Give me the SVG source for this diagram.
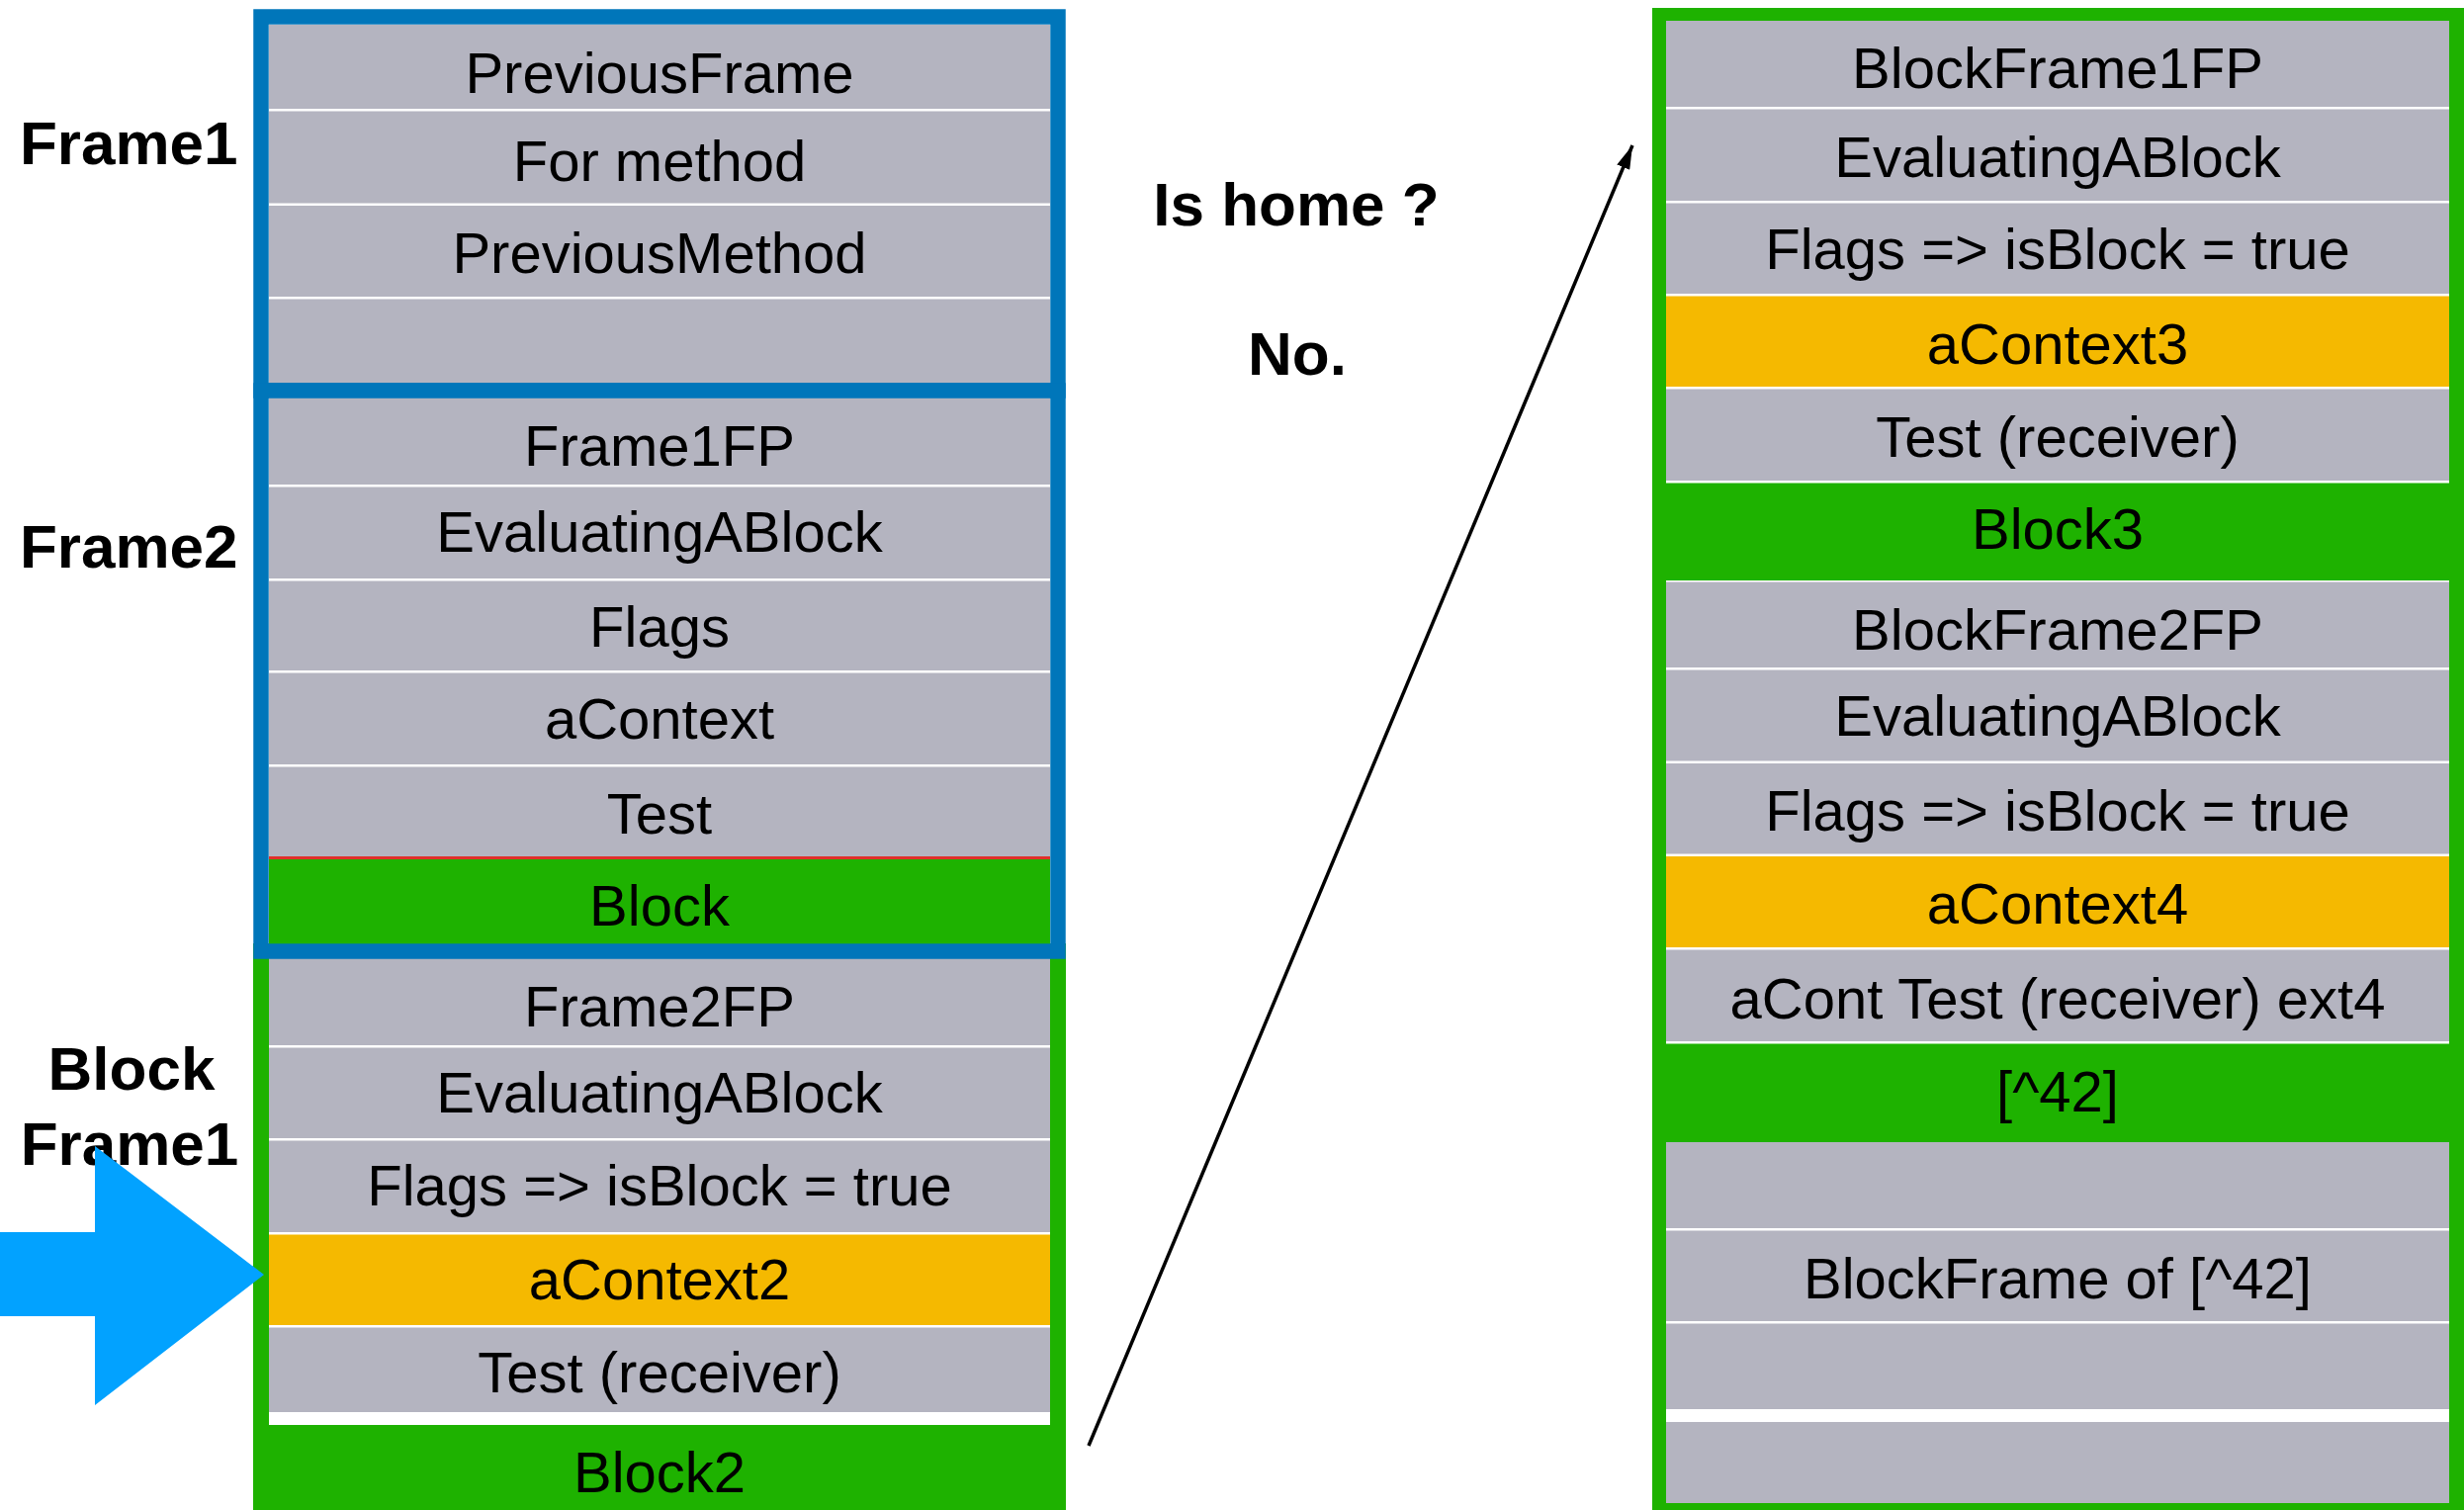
<svg xmlns="http://www.w3.org/2000/svg" width="2492" height="1527" viewBox="0 0 2492 1527">
<style>
.g{fill:#B4B4C0}
.o{fill:#F5B900}
.gr{fill:#1EB200}
.w{fill:#FFFFFF}
.t{font-family:"Liberation Sans",Arial,Helvetica,sans-serif;font-size:58px;fill:#000;text-anchor:middle}
.lb{font-family:"Liberation Sans",Arial,Helvetica,sans-serif;font-size:62px;font-weight:bold;fill:#000}
.blue{fill:none;stroke:#0076BA;stroke-width:15.5}
.green{fill:none;stroke:#1EB200;stroke-width:16}
</style>
<defs>
<marker id="ah2" viewBox="0 0 24 14" refX="24" refY="7" markerWidth="24" markerHeight="14" markerUnits="userSpaceOnUse" orient="auto">
<path d="M0,0 L24,7 L0,14 z" fill="#000"/>
</marker>
</defs>
<rect x="0" y="0" width="2492" height="1527" fill="#FFFFFF"/>

<!-- Labels -->
<g id="label-frame1"><text class="lb" x="20" y="166">Frame1</text></g>
<g id="label-frame2"><text class="lb" x="20" y="574">Frame2</text></g>
<g id="label-blockframe1"><text class="lb" x="133" y="1102" text-anchor="middle">Block</text><text class="lb" x="131" y="1178" text-anchor="middle">Frame1</text></g>
<g id="label-ishome"><text class="lb" x="1311" y="228" text-anchor="middle">Is home ?</text></g>
<g id="label-no"><text class="lb" x="1312" y="379" text-anchor="middle">No.</text></g>

<!-- Block Frame1 (green) -->
<g id="blockframe1">
<rect x="264" y="962" width="806" height="600" class="green"/>
<g id="bf1-frame2fp"><rect class="g" x="272" y="969" width="790" height="88"/><text class="t" x="667" y="1038">Frame2FP</text></g>
<g id="bf1-eval"><rect class="g" x="272" y="1059.5" width="790" height="91.5"/><text class="t" x="667" y="1125">EvaluatingABlock</text></g>
<g id="bf1-flags"><rect class="g" x="272" y="1153.5" width="790" height="92.5"/><text class="t" x="667" y="1219">Flags =&gt; isBlock = true</text></g>
<g id="bf1-acontext2"><rect class="o" x="272" y="1248.5" width="790" height="91.5"/><text class="t" x="667" y="1314">aContext2</text></g>
<g id="bf1-test"><rect class="g" x="272" y="1342.5" width="790" height="85.5"/><text class="t" x="667" y="1408">Test (receiver)</text></g>
<g id="bf1-block2"><rect class="gr" x="260" y="1441" width="814" height="90"/><text class="t" x="667" y="1509">Block2</text></g>
</g>

<!-- Frame1 (blue) -->
<g id="frame1">
<g id="f1-previousframe"><rect class="g" x="272" y="25" width="790" height="85"/><text class="t" x="667" y="94">PreviousFrame</text></g>
<g id="f1-formethod"><rect class="g" x="272" y="112.5" width="790" height="93"/><text class="t" x="667" y="183">For method</text></g>
<g id="f1-previousmethod"><rect class="g" x="272" y="208" width="790" height="92"/><text class="t" x="667" y="276">PreviousMethod</text></g>
<g id="f1-empty"><rect class="g" x="272" y="302.5" width="790" height="86"/></g>
<rect x="264" y="17" width="806" height="378" class="blue"/>
</g>

<!-- Frame2 (blue) -->
<g id="frame2">
<g id="f2-frame1fp"><rect class="g" x="272" y="402" width="790" height="88"/><text class="t" x="667" y="471">Frame1FP</text></g>
<g id="f2-eval"><rect class="g" x="272" y="492.5" width="790" height="92.5"/><text class="t" x="667" y="558">EvaluatingABlock</text></g>
<g id="f2-flags"><rect class="g" x="272" y="587.5" width="790" height="90.5"/><text class="t" x="667" y="654">Flags</text></g>
<g id="f2-acontext"><rect class="g" x="272" y="680.5" width="790" height="92.5"/><text class="t" x="667" y="747">aContext</text></g>
<g id="f2-test"><rect class="g" x="272" y="775.5" width="790" height="91"/><text class="t" x="667" y="843">Test</text></g>
<rect x="272" y="866" width="790" height="3" fill="#E0302A"/>
<g id="f2-block"><rect class="gr" x="272" y="869" width="790" height="87"/><text class="t" x="667" y="936">Block</text></g>
<rect x="264" y="395" width="806" height="567" class="blue"/>
</g>

<!-- Right column (green) -->
<g id="rightstack">
<rect x="1671" y="8" width="830" height="1530" class="gr"/>
<rect x="1685" y="21" width="792" height="1499" class="w"/>
<g id="r-blockframe1fp"><rect class="g" x="1685" y="21" width="792" height="87"/><text class="t" x="2081" y="89">BlockFrame1FP</text></g>
<g id="r-eval1"><rect class="g" x="1685" y="110.5" width="792" height="92.5"/><text class="t" x="2081" y="179">EvaluatingABlock</text></g>
<g id="r-flags1"><rect class="g" x="1685" y="205.5" width="792" height="91.5"/><text class="t" x="2081" y="272">Flags =&gt; isBlock = true</text></g>
<g id="r-acontext3"><rect class="o" x="1685" y="299.5" width="792" height="91.5"/><text class="t" x="2081" y="368">aContext3</text></g>
<g id="r-test1"><rect class="g" x="1685" y="393.5" width="792" height="92.5"/><text class="t" x="2081" y="462">Test (receiver)</text></g>
<g id="r-block3"><rect class="gr" x="1680" y="488.5" width="802" height="98.5"/><text class="t" x="2081" y="555">Block3</text></g>
<g id="r-blockframe2fp"><rect class="g" x="1685" y="588.5" width="792" height="86.5"/><text class="t" x="2081" y="657">BlockFrame2FP</text></g>
<g id="r-eval2"><rect class="g" x="1685" y="677.5" width="792" height="92"/><text class="t" x="2081" y="744">EvaluatingABlock</text></g>
<g id="r-flags2"><rect class="g" x="1685" y="772" width="792" height="91.5"/><text class="t" x="2081" y="840">Flags =&gt; isBlock = true</text></g>
<g id="r-acontext4"><rect class="o" x="1685" y="866" width="792" height="92"/><text class="t" x="2081" y="934">aContext4</text></g>
<g id="r-acont"><rect class="g" x="1685" y="960.5" width="792" height="92.5"/><text class="t" x="2081" y="1030">aCont Test (receiver) ext4</text></g>
<g id="r-ret42"><rect class="gr" x="1680" y="1055.5" width="802" height="99.5"/><text class="t" x="2081" y="1124">[^42]</text></g>
<g id="r-empty1"><rect class="g" x="1685" y="1155" width="792" height="87"/></g>
<g id="r-blockframeof"><rect class="g" x="1685" y="1244.5" width="792" height="91.5"/><text class="t" x="2081" y="1313">BlockFrame of [^42]</text></g>
<g id="r-empty2"><rect class="g" x="1685" y="1338.5" width="792" height="86.5"/></g>
<g id="r-empty3"><rect class="g" x="1685" y="1438" width="792" height="82"/></g>
</g>

<!-- Pointer arrow -->
<g id="pointer">
<polygon points="0,1246 96,1246 96,1159 267,1289 96,1421 96,1331 0,1331" fill="#02A2FF"/>
</g>

<!-- Connectors -->
<g id="connectors">
<line x1="1101" y1="1462" x2="1651" y2="147" stroke="#000" stroke-width="3.5" marker-end="url(#ah2)"/>
</g>
</svg>
